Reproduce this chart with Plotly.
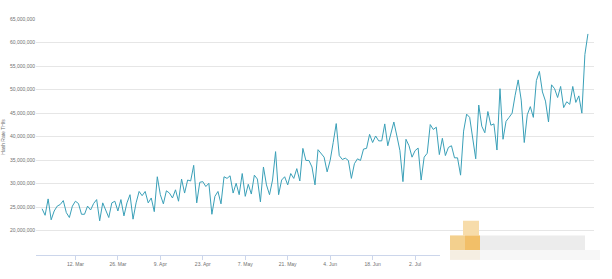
import pandas as pd
import plotly.graph_objects as go

# ---- data (hash rate, millions of TH/s, daily from 1 Mar 2018) ----
start_date = "2018-03-01"
hash_rate_m = [
    # Mar 1 - Apr 6
    24.65, 23.26, 26.74, 22.29, 24.17, 25.21, 25.56, 26.39, 23.82, 22.78,
    25.21, 26.25, 25.76, 23.47, 23.47, 25.21, 24.38, 25.76, 26.60, 22.08,
    25.90, 24.17, 22.78, 25.90, 26.25, 24.17, 26.60, 23.13, 25.90, 27.64,
    22.43, 25.90, 28.33, 27.43, 28.33, 25.90, 26.94,
    # Apr 7 - May 13
    24.03, 31.46, 27.64, 25.69, 28.47, 27.99, 26.94, 28.68, 26.25, 30.97,
    27.99, 30.76, 30.56, 33.89, 25.90, 30.28, 30.42, 29.38, 30.07, 23.47,
    27.29, 28.33, 25.69, 31.46, 31.11, 31.67, 27.99, 30.07, 27.64, 32.15,
    27.29, 29.86, 27.78, 31.80, 30.97, 26.11, 33.54,
    # May 14 - Jun 18
    29.73, 27.64, 30.76, 36.81, 27.64, 30.76, 31.46, 29.73, 32.15, 31.11,
    33.19, 30.56, 37.50, 34.93, 34.93, 33.54, 29.73, 37.22, 36.53, 35.63,
    32.50, 34.93, 38.75, 42.78, 35.97, 35.14, 35.42, 34.93, 31.11, 34.24,
    35.28, 34.93, 37.36, 37.50, 40.48, 38.75,
    # Jun 19 - Jul 24
    40.14, 39.10, 39.10, 42.71, 38.06, 40.83, 43.12, 40.14, 37.02, 30.42,
    39.44, 38.06, 35.63, 37.02, 37.57, 30.76, 35.63, 36.46, 42.57, 41.53,
    42.01, 36.18, 39.65, 35.97, 37.71, 38.06, 35.49, 35.49, 31.80, 41.18,
    44.79, 44.10, 39.79, 35.28, 46.73, 42.22,
    # Jul 25 - Aug 28
    40.83, 45.35, 42.43, 42.71, 37.15, 50.21, 39.44, 43.26, 44.10, 45.00,
    48.82, 52.08, 47.78, 38.75, 44.65, 46.39, 44.10, 51.94, 53.89, 49.52,
    47.57, 43.12, 51.04, 50.21, 48.33, 50.69, 46.18, 47.43, 46.88, 50.69,
    47.29, 48.68, 45.00, 57.50, 61.87,
]
dates = pd.date_range(start_date, periods=len(hash_rate_m), freq="D")
values = [v * 1e6 for v in hash_rate_m]

tick_dates = ["2018-03-12", "2018-03-26", "2018-04-09", "2018-04-23", "2018-05-07",
              "2018-05-21", "2018-06-04", "2018-06-18", "2018-07-02", "2018-07-16",
              "2018-07-30", "2018-08-13", "2018-08-27"]
tick_labels = ["12. Mar", "26. Mar", "9. Apr", "23. Apr", "7. May", "21. May",
               "4. Jun", "18. Jun", "2. Jul", "16. Jul", "30. Jul", "13. Aug", "27. Aug"]
y_ticks = [20e6, 25e6, 30e6, 35e6, 40e6, 45e6, 50e6, 55e6, 60e6, 65e6]
y_title = "Hash Rate TH/s"

# ---- layout geometry ----
W, H = 612, 279
ML, MR, MT, MB = 36, 18, 19, 19
PW, PH = W - ML - MR, H - MT - MB


def px(xp):
    return (xp - ML) / PW


def py(yp):
    return (H - MB - yp) / PH


fig = go.Figure()
fig.add_trace(go.Scatter(
    x=dates, y=values, mode="lines",
    line=dict(color="#3aa0b8", width=1),
    hoverinfo="x+y",
))

font = dict(family="Liberation Sans, Arial, sans-serif", size=5, color="#707070")

# watermark-like blurred badge at the bottom right
shapes = [
    dict(type="rect", xref="paper", yref="paper", x0=px(440), x1=px(612), y0=py(279), y1=py(238),
         fillcolor="#ffffff", line=dict(width=0), layer="above"),
    dict(type="rect", xref="paper", yref="paper", x0=px(463), x1=px(479), y0=py(240), y1=py(225),
         fillcolor="#f7dcaa", line=dict(width=0), layer="above"),
    dict(type="rect", xref="paper", yref="paper", x0=px(450), x1=px(465), y0=py(255), y1=py(240),
         fillcolor="#f3d08e", line=dict(width=0), layer="above"),
    dict(type="rect", xref="paper", yref="paper", x0=px(465), x1=px(480), y0=py(255), y1=py(240),
         fillcolor="#f2bf68", line=dict(width=0), layer="above"),
    dict(type="rect", xref="paper", yref="paper", x0=px(450), x1=px(480), y0=py(265), y1=py(255),
         fillcolor="#f5eee2", line=dict(width=0), layer="above"),
    dict(type="rect", xref="paper", yref="paper", x0=px(480), x1=px(585), y0=py(255), y1=py(240),
         fillcolor="#ececec", line=dict(width=0), layer="above"),
    dict(type="rect", xref="paper", yref="paper", x0=px(480), x1=px(600), y0=py(265), y1=py(255),
         fillcolor="#f7f7f7", line=dict(width=0), layer="above"),
]

fig.update_layout(
    width=W, height=H,
    margin=dict(l=ML, r=MR, t=MT, b=MB, pad=0),
    paper_bgcolor="#ffffff", plot_bgcolor="#ffffff",
    showlegend=False,
    font=font,
    shapes=shapes,
    xaxis=dict(
        type="date",
        range=["2018-02-27", "2018-08-30"],
        tickvals=tick_dates, ticktext=tick_labels,
        showgrid=False, zeroline=False,
        showline=True, linecolor="#ccd6eb", linewidth=1,
        ticks="outside", ticklen=4, tickcolor="#ccd6eb", tickwidth=1,
        tickfont=font,
    ),
    yaxis=dict(
        range=[14.8e6, 65.05e6],
        tickvals=y_ticks, tickformat=",d",
        showgrid=True, gridcolor="#e6e6e6", gridwidth=1,
        zeroline=False, showline=False, ticks="",
        tickfont=font,
        title=dict(text=y_title, font=font, standoff=4),
        automargin=False,
    ),
)

fig.write_html("out.html")
